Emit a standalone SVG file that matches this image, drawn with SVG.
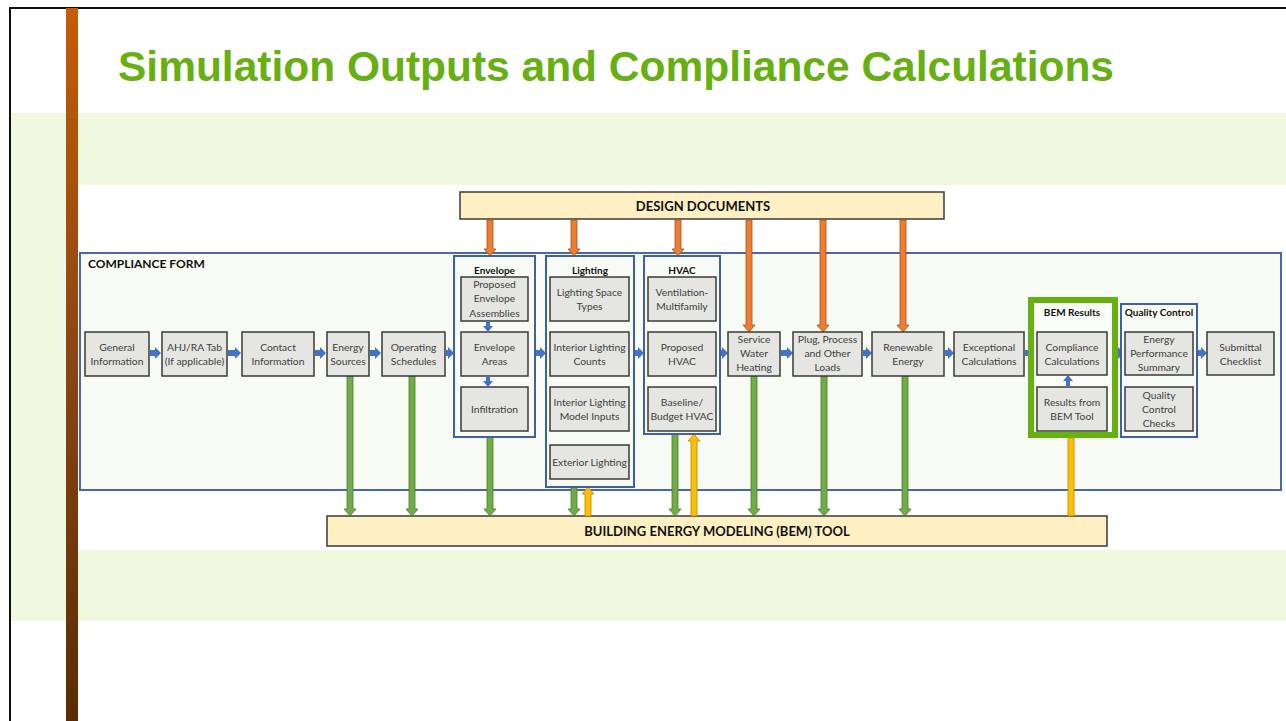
<svg xmlns="http://www.w3.org/2000/svg" width="1286" height="721" viewBox="0 0 1286 721">
<defs>
<linearGradient id="barGrad" x1="0" y1="0" x2="0" y2="1">
<stop offset="0" stop-color="#C55C08"/>
<stop offset="0.5" stop-color="#8A4512"/>
<stop offset="1" stop-color="#5A2C06"/>
</linearGradient>
</defs>
<style>
.node{fill:#E5E5E1;stroke:#3A3A3A;stroke-width:1.5}
.grp{fill:#F8FBF4;stroke:#3F5FA6;stroke-width:2}
.ybox{fill:#FFF0C3;stroke:#3A3A3A;stroke-width:1.5}
.t{font-family:Lato,"Liberation Sans",sans-serif;font-size:10.3px;fill:#404040;text-anchor:middle}
.h{font-family:Lato,"Liberation Sans",sans-serif;font-size:10px;font-weight:bold;fill:#111;text-anchor:middle}
.big{font-family:Lato,"Liberation Sans",sans-serif;font-size:13px;font-weight:bold;fill:#111;text-anchor:middle}
.orange{fill:#ED7D31;stroke:#A4501C;stroke-width:0.8}
.green{fill:#70AD47;stroke:#4C7A2E;stroke-width:0.8}
.yellow{fill:#FFC000;stroke:#B8860B;stroke-width:0.8}
.blue{fill:#4472C4;stroke:none}
</style>
<!-- slide background -->
<rect x="0" y="0" width="1286" height="721" fill="#FFFFFF"/>
<rect x="11" y="113" width="1275" height="508" fill="#F0F8DF"/>
<rect x="78" y="185" width="1208" height="365" fill="#FFFFFF"/>
<rect x="10" y="8" width="1290" height="720" fill="none" stroke="#111" stroke-width="2"/>
<rect x="66" y="8" width="12" height="713" fill="url(#barGrad)"/>
<text x="118" y="81" font-family="'Liberation Sans',Arial,sans-serif" font-size="43" font-weight="bold" fill="#66B012" textLength="996" lengthAdjust="spacingAndGlyphs">Simulation Outputs and Compliance Calculations</text>

<g id="compliance-form">
<rect x="80" y="253" width="1201" height="237" fill="#F8FBF4" stroke="#4A68A8" stroke-width="2"/>
<text x="88" y="268" font-family="Lato,'Liberation Sans',sans-serif" font-size="12" font-weight="bold" fill="#111">COMPLIANCE FORM</text>
</g>
<g id="design-documents">
<rect class="ybox" x="460" y="192" width="484" height="27"/>
<text class="big" x="703" y="211">DESIGN DOCUMENTS</text>
</g>
<g id="bem-tool">
<rect class="ybox" x="327" y="516" width="780" height="30"/>
<text class="big" x="717" y="536">BUILDING ENERGY MODELING (BEM) TOOL</text>
</g>

<g id="connectors">
<!-- orange down arrows from design documents -->
<polygon class="orange" points="487,220 493,220 493,249 496,249 490,256 484,249 487,249"/>
<polygon class="orange" points="571,220 577,220 577,249 580,249 574,256 568,249 571,249"/>
<polygon class="orange" points="675,220 681,220 681,249 684,249 678,256 672,249 675,249"/>
<polygon class="orange" points="746,220 752,220 752,325 755,325 749,332 743,325 746,325"/>
<polygon class="orange" points="820,220 826,220 826,325 829,325 823,332 817,325 820,325"/>
<polygon class="orange" points="900,220 906,220 906,325 909,325 903,332 897,325 900,325"/>
<!-- green down arrows to BEM tool -->
<polygon class="green" points="347,376 353,376 353,509 356,509 350,516 344,509 347,509"/>
<polygon class="green" points="409,376 415,376 415,509 418,509 412,516 406,509 409,509"/>
<polygon class="green" points="487,437 493,437 493,509 496,509 490,516 484,509 487,509"/>
<polygon class="green" points="571,487 577,487 577,509 580,509 574,516 568,509 571,509"/>
<polygon class="green" points="672,434 678,434 678,509 681,509 675,516 669,509 672,509"/>
<polygon class="green" points="751,376 757,376 757,509 760,509 754,516 748,509 751,509"/>
<polygon class="green" points="821,376 827,376 827,509 830,509 824,516 818,509 821,509"/>
<polygon class="green" points="902,376 908,376 908,509 911,509 905,516 899,509 902,509"/>
<!-- yellow up arrows from BEM tool -->
<polygon class="yellow" points="585,516 591,516 591,494 594,494 588,487 582,494 585,494"/>
<polygon class="yellow" points="691,516 697,516 697,441 700,441 694,434 688,441 691,441"/>
<polygon class="yellow" points="1068,516 1074,516 1074,438 1068,438"/>
<!-- blue flow arrows -->
<polygon class="blue" points="150,350 155,350 155,347 161,353 155,359 155,356 150,356"/>
<polygon class="blue" points="228,350 235,350 235,347 241,353 235,359 235,356 228,356"/>
<polygon class="blue" points="315,350 320,350 320,347 326,353 320,359 320,356 315,356"/>
<polygon class="blue" points="370,350 375,350 375,347 381,353 375,359 375,356 370,356"/>
<polygon class="blue" points="446,350 448,350 448,347 454,353 448,359 448,356 446,356"/>
<polygon class="blue" points="536,350 540,350 540,347 546,353 540,359 540,356 536,356"/>
<polygon class="blue" points="635,350 638,350 638,347 644,353 638,359 638,356 635,356"/>
<polygon class="blue" points="721,350 722,350 722,347 728,353 722,359 722,356 721,356"/>
<polygon class="blue" points="781,350 787,350 787,347 793,353 787,359 787,356 781,356"/>
<polygon class="blue" points="863,350 866,350 866,347 872,353 866,359 866,356 863,356"/>
<polygon class="blue" points="945,350 948,350 948,347 954,353 948,359 948,356 945,356"/>
<polygon class="blue" points="1025,350 1028,350 1028,347 1033,353 1028,359 1028,356 1025,356"/>
<polygon class="blue" points="1115,350 1118,350 1118,347 1124,353 1118,359 1118,356 1115,356"/>
<polygon class="blue" points="1198,350 1201,350 1201,347 1207,353 1201,359 1201,356 1198,356"/>
</g>

<g id="general-information">
<rect class="node" x="85" y="332" width="64" height="44"/>
<text class="t" x="117" y="350.5">General</text><text class="t" x="117" y="364.5">Information</text>
</g>
<g id="ahj-ra-tab">
<rect class="node" x="162" y="332" width="65" height="44"/>
<text class="t" x="194.5" y="350.5">AHJ/RA Tab</text><text class="t" x="194.5" y="364.5">(If applicable)</text>
</g>
<g id="contact-information">
<rect class="node" x="242" y="332" width="72" height="44"/>
<text class="t" x="278" y="350.5">Contact</text><text class="t" x="278" y="364.5">Information</text>
</g>
<g id="energy-sources">
<rect class="node" x="327" y="332" width="42" height="44"/>
<text class="t" x="348" y="350.5">Energy</text><text class="t" x="348" y="364.5">Sources</text>
</g>
<g id="operating-schedules">
<rect class="node" x="382" y="332" width="63" height="44"/>
<text class="t" x="413.5" y="350.5">Operating</text><text class="t" x="413.5" y="364.5">Schedules</text>
</g>

<g id="envelope">
<rect class="grp" x="454" y="256" width="81" height="181"/>
<text class="h" x="494.5" y="274">Envelope</text>
<rect class="node" x="461" y="277" width="67" height="44"/>
<text class="t" x="494.5" y="287.5">Proposed</text><text class="t" x="494.5" y="302">Envelope</text><text class="t" x="494.5" y="316.5">Assemblies</text>
<rect class="node" x="461" y="332" width="67" height="44"/>
<text class="t" x="494.5" y="350.5">Envelope</text><text class="t" x="494.5" y="364.5">Areas</text>
<rect class="node" x="461" y="387" width="67" height="44"/>
<text class="t" x="494.5" y="412.5">Infiltration</text>
<polygon class="blue" points="486,321 490,321 490,326 493,326 488,332 483,326 486,326"/>
<polygon class="blue" points="486,376 490,376 490,381 493,381 488,387 483,381 486,381"/>
</g>

<g id="lighting">
<rect class="grp" x="546" y="256" width="88" height="231"/>
<text class="h" x="590" y="274">Lighting</text>
<rect class="node" x="550" y="277" width="79" height="44"/>
<text class="t" x="589.5" y="295.5">Lighting Space</text><text class="t" x="589.5" y="309.5">Types</text>
<rect class="node" x="550" y="332" width="79" height="44"/>
<text class="t" x="589.5" y="350.5">Interior Lighting</text><text class="t" x="589.5" y="364.5">Counts</text>
<rect class="node" x="550" y="387" width="79" height="44"/>
<text class="t" x="589.5" y="405.5">Interior Lighting</text><text class="t" x="589.5" y="419.5">Model Inputs</text>
<rect class="node" x="550" y="445" width="79" height="34"/>
<text class="t" x="589.5" y="465.5">Exterior Lighting</text>
</g>

<g id="hvac">
<rect class="grp" x="644" y="256" width="76" height="178"/>
<text class="h" x="682" y="274">HVAC</text>
<rect class="node" x="648" y="277" width="68" height="44"/>
<text class="t" x="682" y="295.5">Ventilation-</text><text class="t" x="682" y="309.5">Multifamily</text>
<rect class="node" x="648" y="332" width="68" height="44"/>
<text class="t" x="682" y="350.5">Proposed</text><text class="t" x="682" y="364.5">HVAC</text>
<rect class="node" x="648" y="387" width="68" height="44"/>
<text class="t" x="682" y="405.5">Baseline/</text><text class="t" x="682" y="419.5">Budget HVAC</text>
</g>

<g id="service-water-heating">
<rect class="node" x="728" y="332" width="52" height="44"/>
<text class="t" x="754" y="343">Service</text><text class="t" x="754" y="357">Water</text><text class="t" x="754" y="371">Heating</text>
</g>
<g id="plug-process-loads">
<rect class="node" x="793" y="332" width="69" height="44"/>
<text class="t" x="827.5" y="343">Plug, Process</text><text class="t" x="827.5" y="357">and Other</text><text class="t" x="827.5" y="371">Loads</text>
</g>
<g id="renewable-energy">
<rect class="node" x="872" y="332" width="72" height="44"/>
<text class="t" x="908" y="350.5">Renewable</text><text class="t" x="908" y="364.5">Energy</text>
</g>
<g id="exceptional-calculations">
<rect class="node" x="954" y="332" width="70" height="44"/>
<text class="t" x="989" y="350.5">Exceptional</text><text class="t" x="989" y="364.5">Calculations</text>
</g>

<g id="bem-results">
<rect x="1031" y="300" width="84" height="135" fill="#FAFCF7" stroke="#66B012" stroke-width="6"/>
<text class="h" x="1072" y="316">BEM Results</text>
<rect class="node" x="1037" y="332" width="70" height="43"/>
<text class="t" x="1072" y="350.5">Compliance</text><text class="t" x="1072" y="364.5">Calculations</text>
<rect class="node" x="1037" y="387" width="70" height="44"/>
<text class="t" x="1072" y="405.5">Results from</text><text class="t" x="1072" y="419.5">BEM Tool</text>
<polygon class="blue" points="1066,387 1070,387 1070,381 1073,381 1068,375 1063,381 1066,381"/>
</g>

<g id="quality-control">
<rect class="grp" x="1121" y="304" width="76" height="133"/>
<text class="h" x="1159" y="316">Quality Control</text>
<rect class="node" x="1125" y="332" width="68" height="43"/>
<text class="t" x="1159" y="343">Energy</text><text class="t" x="1159" y="357">Performance</text><text class="t" x="1159" y="371">Summary</text>
<rect class="node" x="1125" y="387" width="68" height="44"/>
<text class="t" x="1159" y="398.5">Quality</text><text class="t" x="1159" y="412.5">Control</text><text class="t" x="1159" y="426.5">Checks</text>
</g>

<g id="submittal-checklist">
<rect class="node" x="1207" y="332" width="67" height="43"/>
<text class="t" x="1240.5" y="350.5">Submittal</text><text class="t" x="1240.5" y="364.5">Checklist</text>
</g>
</svg>
